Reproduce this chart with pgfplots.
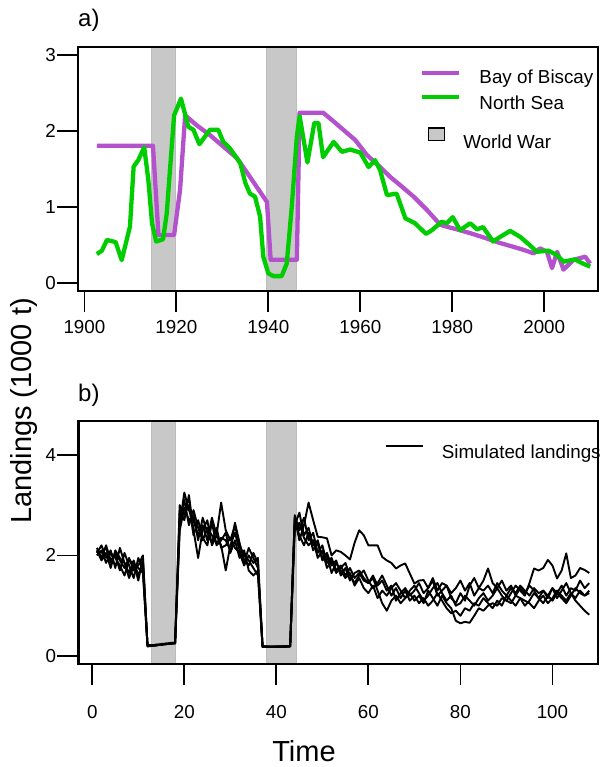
\documentclass[border=0pt]{standalone}
\usepackage{pgfplots}
\pgfplotsset{compat=1.18}
\usepackage{pgfplotstable}
\usepackage{fontspec}
\setmainfont{Liberation Sans}

\definecolor{biscay}{RGB}{180,82,205}
\definecolor{northsea}{RGB}{0,205,0}
\definecolor{wargray}{RGB}{200,200,200}
\definecolor{waredge}{RGB}{188,188,188}

% Landings, Bay of Biscay (1000 t)
\pgfplotstableread{
year value
1902.7 1.81
1914.9 1.81
1916.1 0.635
1919.5 0.635
1920.8 1.23
1921.9 2.21
1924.4 2.08
1927.3 1.95
1930.2 1.80
1933.2 1.645
1936.0 1.40
1939.7 1.07
1940.5 0.31
1946.2 0.31
1946.8 2.245
1951.9 2.245
1954.2 2.13
1956.3 2.02
1958.9 1.885
1961.4 1.69
1964.3 1.53
1966.5 1.40
1968.7 1.29
1971.6 1.14
1974.5 0.965
1977.4 0.77
1978.8 0.745
1981.0 0.71
1983.9 0.66
1987.5 0.59
1990.4 0.53
1993.3 0.48
1995.5 0.44
1997.7 0.395
1999.1 0.46
2000.6 0.415
2001.7 0.20
2002.8 0.415
2004.2 0.18
2006.4 0.31
2008.9 0.35
2010.0 0.26
}\biscaytab

% Landings, North Sea (1000 t)
\pgfplotstableread{
year value
1902.7 0.385
1903.8 0.43
1904.9 0.57
1906.3 0.55
1906.8 0.54
1908.1 0.305
1909.9 0.745
1910.7 1.535
1911.7 1.62
1913.0 1.79
1913.9 1.36
1914.7 0.79
1915.6 0.55
1917.1 0.58
1917.9 0.92
1918.6 1.49
1919.5 2.21
1921.0 2.43
1922.6 2.06
1923.7 2.02
1925.0 1.83
1927.3 2.02
1929.1 2.02
1930.2 1.86
1931.6 1.78
1933.9 1.58
1935.0 1.32
1936.0 1.18
1937.1 1.14
1938.2 0.88
1938.9 0.35
1940.0 0.13
1941.1 0.095
1942.9 0.095
1944.0 0.26
1945.1 1.01
1946.2 1.93
1946.8 2.20
1948.5 1.59
1950.0 2.11
1950.9 2.11
1951.9 1.66
1954.2 1.86
1956.0 1.73
1957.8 1.76
1960.0 1.72
1961.8 1.53
1963.2 1.62
1964.3 1.49
1965.8 1.16
1967.9 1.18
1969.8 0.855
1971.9 0.79
1974.3 0.65
1975.6 0.70
1977.7 0.81
1978.8 0.79
1980.1 0.87
1981.7 0.70
1983.9 0.79
1985.4 0.71
1986.7 0.74
1988.9 0.55
1990.4 0.61
1992.6 0.69
1994.8 0.61
1996.9 0.50
1998.4 0.415
2000.9 0.43
2002.8 0.37
2004.2 0.285
2006.7 0.315
2008.4 0.26
2010.0 0.22
}\northtab

% Five simulated landing trajectories (1000 t)
\pgfplotstableread{
t a b c d e
1 2.10 2.05 2.15 2.00 2.10
2 2.05 2.20 1.95 2.10 1.90
3 2.15 1.95 2.20 1.85 2.05
4 1.85 2.10 1.90 2.05 1.75
5 2.05 1.75 2.00 1.95 2.10
6 1.90 2.15 1.70 1.80 1.95
7 1.75 1.85 2.05 1.60 1.85
8 1.95 1.65 1.80 1.90 1.55
9 1.70 1.90 1.55 1.85 1.80
10 1.80 1.60 1.95 1.50 1.75
11 2.00 1.85 1.70 1.95 1.65
12 0.20 0.19 0.21 0.20 0.22
13 0.21 0.20 0.20 0.22 0.21
14 0.22 0.22 0.21 0.21 0.23
15 0.23 0.22 0.23 0.24 0.22
16 0.24 0.25 0.23 0.24 0.24
17 0.25 0.24 0.26 0.25 0.25
18 0.26 0.25 0.26 0.27 0.25
19 2.60 2.90 2.70 3.00 2.50
20 3.25 2.70 3.10 2.80 2.95
21 2.90 3.20 2.60 3.00 2.70
22 2.70 2.50 2.90 2.40 2.80
23 2.40 1.95 2.55 2.70 2.30
24 2.60 2.50 2.30 2.35 2.75
25 2.30 2.70 2.55 2.20 2.45
26 2.75 2.20 2.40 2.65 2.25
27 2.40 2.40 2.25 2.20 2.55
28 3.05 2.20 2.35 2.30 2.15
29 2.50 1.70 2.30 2.45 2.20
30 2.30 2.20 2.10 2.05 2.35
31 2.60 2.45 2.65 2.30 2.15
32 2.20 2.10 2.25 1.95 2.05
33 2.00 1.85 1.90 2.10 1.80
34 1.90 2.15 1.80 1.70 2.00
35 1.75 1.95 2.05 1.60 1.85
36 1.60 1.75 1.85 1.70 1.95
37 0.19 0.18 0.20 0.19 0.18
38 0.18 0.19 0.19 0.18 0.19
39 0.19 0.18 0.18 0.19 0.18
40 0.18 0.19 0.19 0.18 0.19
41 0.19 0.18 0.19 0.19 0.18
42 0.19 0.19 0.18 0.19 0.19
43 0.20 0.19 0.19 0.20 0.19
44 2.75 2.80 2.60 2.70 2.50
45 2.30 2.50 2.85 2.40 2.65
46 2.60 2.75 2.40 2.20 2.35
47 3.05 2.30 2.55 2.45 2.20
48 2.70 2.45 2.20 2.10 2.30
49 2.37 2.05 2.30 2.25 1.95
50 2.36 2.20 1.95 1.90 2.10
51 2.34 1.85 2.05 2.00 1.75
52 2.00 1.95 1.80 1.65 1.90
53 2.10 1.70 1.90 1.85 1.65
54 2.07 1.80 1.60 1.70 1.75
55 2.00 1.60 1.75 1.55 1.85
56 1.92 1.75 1.50 1.65 1.60
57 2.25 1.55 1.65 1.40 1.45
58 2.50 1.65 1.70 1.55 1.60
59 2.40 1.50 1.55 1.35 1.70
60 2.20 1.45 1.45 1.25 1.50
61 2.20 1.55 1.60 1.40 1.35
62 2.20 1.30 1.40 1.15 1.45
63 1.97 1.05 1.50 1.30 1.60
64 1.90 0.90 1.30 1.20 1.40
65 1.85 1.10 1.40 1.35 1.20
66 1.74 1.20 1.10 1.45 1.35
67 1.80 1.05 1.25 1.30 1.15
68 1.84 1.15 1.35 1.15 1.30
69 1.64 1.25 1.20 1.30 1.10
70 1.44 1.10 1.30 1.40 1.20
71 1.50 1.20 1.45 1.25 1.05
72 1.51 1.05 1.25 1.10 1.15
73 1.35 1.30 1.35 1.20 1.00
74 1.55 1.15 1.50 1.35 1.10
75 1.30 1.00 1.20 1.45 1.25
76 1.45 1.20 1.30 1.25 1.10
77 1.40 1.05 1.40 1.10 0.95
78 1.25 0.95 1.15 1.20 0.85
79 1.35 0.70 1.05 1.00 0.90
80 1.50 0.65 1.25 1.05 0.80
81 1.30 0.68 1.10 1.20 0.95
82 1.45 0.66 1.40 1.10 0.90
83 1.20 0.80 1.55 1.00 1.05
84 1.35 0.95 1.35 1.15 1.00
85 1.30 0.90 1.50 1.25 1.15
86 1.40 1.00 1.74 1.10 1.05
87 1.25 1.05 1.45 1.20 0.95
88 1.45 1.00 1.35 1.35 1.10
89 1.30 1.15 1.50 1.20 1.00
90 1.20 1.10 1.30 1.10 1.20
91 1.35 1.05 1.40 1.25 1.10
92 1.25 1.20 1.20 1.40 1.00
93 1.40 1.15 1.35 1.30 1.15
94 1.30 1.00 1.25 1.20 1.10
95 1.20 1.10 1.40 1.45 1.05
96 1.35 1.25 1.30 1.74 0.95
97 1.25 1.15 1.15 1.70 1.10
98 1.30 1.05 1.30 1.75 1.20
99 1.15 1.20 1.20 1.91 1.05
100 1.35 1.10 1.35 1.80 1.15
101 1.25 1.25 1.15 1.54 1.30
102 1.40 1.15 1.30 1.70 1.20
103 1.20 1.05 1.45 2.04 1.10
104 1.35 1.20 1.25 1.55 1.25
105 1.30 1.35 1.10 1.60 1.15
106 1.50 1.25 1.00 1.75 1.30
107 1.35 1.20 0.90 1.71 1.20
108 1.45 1.30 0.82 1.65 1.25
}\simtab

\pgfplotsset{
  rpanel/.style={
    scale only axis,
    axis on top,
    axis line style={line width=2.4pt},
    tick align=outside,
    xtick pos=bottom, ytick pos=left,
    major tick length=21pt,
    major tick style={line width=1.8pt, black},
    /pgf/number format/assume math mode=true,
    /pgf/number format/1000 sep={},
    ticklabel style={font=\fontsize{18.8}{22}\selectfont},
    yticklabel style={inner sep=1pt},
    xticklabel style={inner sep=0pt},
    legend cell align=left,
    legend style={draw=none, fill=none, inner sep=0pt, outer sep=0pt,
      column sep=18.3pt,
      font=\fontsize{18.8}{22}\selectfont,
      nodes={inner sep=0pt, text height=13pt, text depth=4pt}},
  },
  % an invisible copy of panel a that only carries one legend entry
  legendonly/.style={rpanel, hide axis,
    at={(78pt,-47pt)}, anchor=north west,
    width=520pt, height=244pt,
    xmin=0, xmax=1, ymin=0, ymax=1},
  war/.style={fill=wargray, draw=waredge, line width=0.8pt, forget plot},
}

\begin{document}
\begin{tikzpicture}
\useasboundingbox (0pt,0pt) rectangle (608pt,-767pt);

% ---------- panel a ----------
\begin{axis}[rpanel,
  at={(78pt,-47pt)}, anchor=north west,
  width=520pt, height=244pt,
  xmin=1898.6, xmax=2011.7, ymin=-0.101, ymax=3.109,
  xtick={1900,1920,...,2000}, ytick={0,1,2,3},
  xticklabel style={yshift=-8pt},
  legend style={at={(0.658,0.904)}, anchor=north west},
  legend image code/.code={\draw[#1, line cap=butt] (0pt,6pt) -- (36.7pt,6pt);},
]
\addplot[war] coordinates {(1914.66,-1) (1919.88,-1) (1919.88,4) (1914.66,4)} -- cycle;
\addplot[war] coordinates {(1939.68,-1) (1946.2,-1) (1946.2,4) (1939.68,4)} -- cycle;
\addplot[biscay, line width=4.3pt, line join=round] table[x=year, y=value] {\biscaytab};
\addlegendentry{Bay of Biscay}
\addplot[northsea, line width=4.3pt, line join=round, forget plot] table[x=year, y=value] {\northtab};
\end{axis}

% legend entry: North Sea
\begin{axis}[legendonly,
  legend style={at={(0.658,0.803)}, anchor=north west},
  legend image code/.code={\draw[#1, line cap=butt] (0pt,7.5pt) -- (36.7pt,7.5pt);},
]
\addlegendimage{northsea, line width=4.3pt}
\addlegendentry{North Sea}
\end{axis}

% legend entry: shaded war years
\begin{axis}[legendonly,
  legend style={at={(0.673,0.671)}, anchor=north west, column sep=18pt},
  legend image code/.code={\draw[fill=wargray, draw=black, line width=1.3pt] (0pt,3.3pt) rectangle (16pt,15.6pt);},
]
\addlegendimage{}
\addlegendentry{World War}
\end{axis}

% ---------- panel b ----------
\begin{axis}[rpanel,
  at={(78.3pt,-420.7pt)}, anchor=north west,
  width=519.7pt, height=243.3pt,
  xmin=-3.04, xmax=109.9, ymin=-0.159, ymax=4.678,
  xtick={0,20,...,100}, ytick={0,2,4},
  xticklabel style={yshift=-20pt},
  legend style={at={(0.590,0.899)}, anchor=north west},
  legend image code/.code={\draw[#1, line cap=butt] (0pt,8pt) -- (36.7pt,8pt);},
]
\addplot[war] coordinates {(12.91,-1) (18.13,-1) (18.13,6) (12.91,6)} -- cycle;
\addplot[war] coordinates {(37.91,-1) (44.43,-1) (44.43,6) (37.91,6)} -- cycle;
\addplot[black, line width=1.9pt, line join=round] table[x=t, y=a] {\simtab};
\addlegendentry{Simulated landings}
\addplot[black, line width=1.9pt, line join=round, forget plot] table[x=t, y=b] {\simtab};
\addplot[black, line width=1.9pt, line join=round, forget plot] table[x=t, y=c] {\simtab};
\addplot[black, line width=1.9pt, line join=round, forget plot] table[x=t, y=d] {\simtab};
\addplot[black, line width=1.9pt, line join=round, forget plot] table[x=t, y=e] {\simtab};
\end{axis}

% panel tags and shared axis titles
\node[anchor=base west, inner sep=0pt, font=\fontsize{24}{28}\selectfont] at (78pt,-26.7pt) {a)};
\node[anchor=base west, inner sep=0pt, font=\fontsize{24}{28}\selectfont] at (78pt,-401pt) {b)};
\node[rotate=90, inner sep=0pt, font=\fontsize{29}{34}\selectfont] at (24pt,-411pt) {Landings (1000 t)};
\node[anchor=base, inner sep=0pt, font=\fontsize{29}{34}\selectfont] at (304pt,-761pt) {Time};
\end{tikzpicture}
\end{document}
